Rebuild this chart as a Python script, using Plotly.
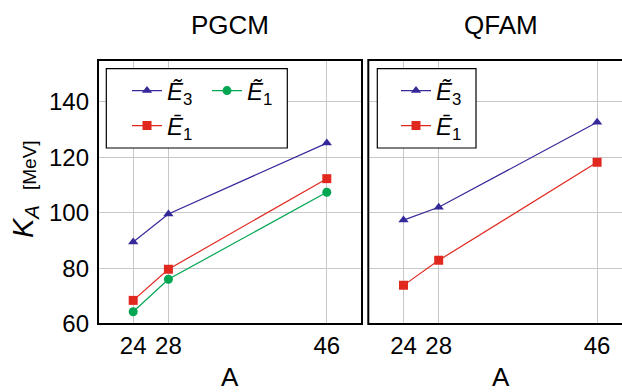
import plotly.graph_objects as go

# ---- data ----
A = [24, 28, 46]
pgcm_E3_tilde = [89.5, 99.6, 125.1]
pgcm_E1_bar = [68.5, 79.7, 112.3]
pgcm_E1_tilde = [64.4, 76.1, 107.4]
qfam_E3_tilde = [97.4, 102.0, 132.6]
qfam_E1_bar = [73.9, 82.9, 118.2]
x_ticks = [24, 28, 46]
y_ticks = [60, 80, 100, 120, 140]
panel_titles = ["PGCM", "QFAM"]

BLUE = "#35299a"
RED = "#e0281e"
GREEN = "#00a651"
FONT = "Liberation Sans"

lbl_E3t = "<i>Ẽ</i><sub>3</sub>"
lbl_E1t = "<i>Ẽ</i><sub>1</sub>"
lbl_E1b = "<i>Ē</i><sub>1</sub>"

W, H = 622, 392
ML, MR, MT, MB = 98, 0, 60, 68
PW = W - ML - MR
PH = H - MT - MB

def px(x):
    return (x - ML) / PW

def py(y):
    return (MT + PH - y) / PH

fig = go.Figure()

def add(x, y, name, color, symbol, xa, ya, legend, size=8):
    fig.add_trace(go.Scatter(
        x=x, y=y, name=name, mode="lines+markers",
        line=dict(color=color, width=1.2),
        marker=dict(color=color, symbol=symbol, size=size),
        xaxis=xa, yaxis=ya, legend=legend, showlegend=True))

add(A, pgcm_E3_tilde, lbl_E3t, BLUE, "triangle-up", "x", "y", "legend", 9)
add(A, pgcm_E1_tilde, lbl_E1t, GREEN, "circle", "x", "y", "legend2", 9)
add(A, pgcm_E1_bar, lbl_E1b, RED, "square", "x", "y", "legend3", 9)
add(A, qfam_E3_tilde, lbl_E3t, BLUE, "triangle-up", "x2", "y2", "legend4", 9)
add(A, qfam_E1_bar, lbl_E1b, RED, "square", "x2", "y2", "legend5", 9)

axis_common = dict(
    showgrid=True, gridcolor="#c8c8c8", gridwidth=1, zeroline=False,
    showline=False, ticks="", tickfont=dict(family=FONT, size=24, color="black"),
)

left_dom = [0, px(362)]
right_dom = [px(368.3), 1]

fig.update_layout(
    width=W, height=H,
    margin=dict(l=ML, r=MR, t=MT, b=MB),
    paper_bgcolor="white", plot_bgcolor="white",
    font=dict(family=FONT, color="black"),
    xaxis=dict(domain=left_dom, range=[20, 50], tickvals=x_ticks, anchor="y",
               ticklabelstandoff=5, **axis_common),
    xaxis2=dict(domain=right_dom, range=[20, 20 + (622 - 368.3) / 8.8], tickvals=x_ticks,
                anchor="y2", ticklabelstandoff=5, **axis_common),
    yaxis=dict(domain=[0, 1], range=[60, 155], tickvals=y_ticks, anchor="x",
               ticklabelstandoff=8, **axis_common),
    yaxis2=dict(domain=[0, 1], range=[60, 155], tickvals=y_ticks, anchor="x2",
                showticklabels=False, **axis_common),
)

leg_common = dict(bgcolor="rgba(0,0,0,0)", borderwidth=0, xref="paper", yref="paper",
                  xanchor="left", yanchor="middle", orientation="v",
                  font=dict(family=FONT, size=24, color="black"))
fig.update_layout(
    legend=dict(x=px(127), y=py(91), **leg_common),
    legend2=dict(x=px(207), y=py(91), **leg_common),
    legend3=dict(x=px(127), y=py(126), **leg_common),
    legend4=dict(x=px(396), y=py(91), **leg_common),
    legend5=dict(x=px(396), y=py(126), **leg_common),
)

shapes = [
    # legend boxes
    dict(type="rect", xref="paper", yref="paper", x0=px(106.3), x1=px(287.3),
         y0=py(148), y1=py(68.7), line=dict(color="black", width=1.2),
         fillcolor="white", layer="above"),
    dict(type="rect", xref="paper", yref="paper", x0=px(377.3), x1=px(476),
         y0=py(148), y1=py(68.7), line=dict(color="black", width=1.2),
         fillcolor="white", layer="above"),
    # panel frames
    dict(type="rect", xref="paper", yref="paper", x0=left_dom[0], x1=left_dom[1],
         y0=0, y1=1, line=dict(color="black", width=2), layer="above"),
    dict(type="rect", xref="paper", yref="paper", x0=right_dom[0], x1=1.05,
         y0=0, y1=1, line=dict(color="black", width=2), layer="above"),
]
fig.update_layout(shapes=shapes)

ann = [
    dict(text=panel_titles[0], x=px(230), y=py(25), xref="paper", yref="paper",
         showarrow=False, font=dict(family=FONT, size=26), xanchor="center", yanchor="middle"),
    dict(text=panel_titles[1], x=px(500.5), y=py(25), xref="paper", yref="paper",
         showarrow=False, font=dict(family=FONT, size=26), xanchor="center", yanchor="middle"),
    dict(text="A", x=px(230), y=py(392), xref="paper", yref="paper", yshift=-2,
         showarrow=False, font=dict(family=FONT, size=26), xanchor="center", yanchor="bottom"),
    dict(text="A", x=px(501), y=py(392), xref="paper", yref="paper", yshift=-2,
         showarrow=False, font=dict(family=FONT, size=26), xanchor="center", yanchor="bottom"),
    dict(text="<i>K</i><sub><i>A</i></sub>",
         x=px(25), y=py(222), xref="paper", yref="paper", textangle=-90,
         showarrow=False, font=dict(family=FONT, size=29), xanchor="center", yanchor="middle"),
    dict(text="[MeV]",
         x=px(29), y=py(165), xref="paper", yref="paper", textangle=-90,
         showarrow=False, font=dict(family=FONT, size=19), xanchor="center", yanchor="middle"),
]
fig.update_layout(annotations=ann)

fig.write_html("out.html")
